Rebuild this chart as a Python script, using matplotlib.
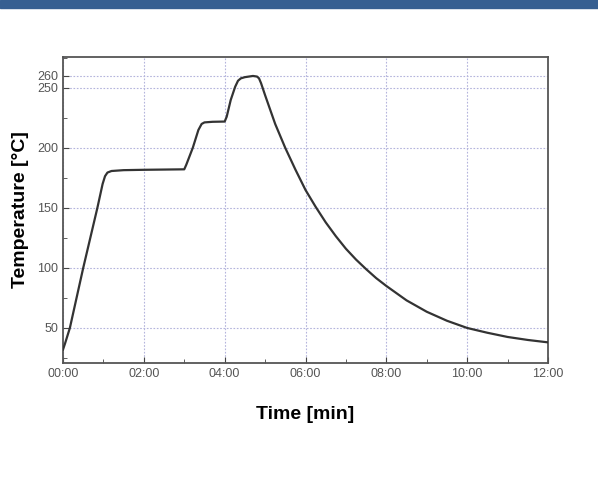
import matplotlib.pyplot as plt
from matplotlib.patches import Rectangle
from matplotlib.ticker import FuncFormatter, MultipleLocator

# Time in minutes and temperature in deg C
time_min = [0.0, 0.05, 0.17, 0.5, 0.85, 0.98, 1.04, 1.1, 1.2, 1.5, 2.0, 2.5, 3.0,
            3.05, 3.21, 3.35, 3.43, 3.5, 3.7, 4.0, 4.05, 4.15, 4.26, 4.33, 4.4,
            4.5, 4.7, 4.8, 4.85, 4.9, 5.0, 5.25, 5.5, 5.75, 6.0, 6.25, 6.5, 6.75,
            7.0, 7.25, 7.5, 7.75, 8.0, 8.5, 9.0, 9.5, 10.0, 10.5, 11.0, 11.5, 12.0]
temp_c = [32, 37, 50, 100, 150, 170, 176.5, 179.5, 180.8, 181.5, 181.8, 182, 182.2,
          186, 200, 215, 220, 221.3, 221.8, 222, 226, 240, 251, 256, 258,
          259, 260, 259.5, 258, 254, 244, 220, 200, 182, 165, 151, 138, 126.5,
          116, 107, 99, 91.5, 85, 73, 63.5, 56, 50, 46, 42.5, 40, 38]

y_ticks = [50, 100, 150, 200, 250, 260]
x_ticks = [0, 2, 4, 6, 8, 10, 12]

fig = plt.figure(figsize=(5.98, 4.84), dpi=100)
fig.patches.append(Rectangle((0, 1 - 8 / 484), 1, 8 / 484, transform=fig.transFigure,
                             color='#365f91', zorder=0))

ax = fig.add_axes([63 / 598, 1 - 363 / 484, 485 / 598, 306 / 484])
ax.plot(time_min, temp_c, color='#333333', lw=1.6, zorder=3)

ax.set_xlim(0, 12)
ax.set_ylim(20.8, 275.8)
ax.set_xticks(x_ticks)
ax.xaxis.set_minor_locator(MultipleLocator(1))
ax.set_yticks(y_ticks)
ax.yaxis.set_minor_locator(MultipleLocator(25))
ax.xaxis.set_major_formatter(FuncFormatter(lambda v, p: '%02d:00' % int(round(v))))

ax.tick_params(which='both', direction='in', top=False, right=False,
               labelsize=9, labelcolor='#555555', color='#444444')
ax.tick_params(which='major', length=4)
ax.tick_params(which='minor', length=3)
for lab in ax.get_xticklabels() + ax.get_yticklabels():
    lab.set_family('Liberation Sans')

for s in ax.spines.values():
    s.set_color('#555555')
    s.set_linewidth(1.3)

ax.grid(True, which='major', linestyle=(0, (1.5, 1.5)), color='#b4b4dc', lw=0.8)

ax.set_xlabel('Time [min]', fontsize=14, fontweight='bold', family='Liberation Sans',
              labelpad=19)
ax.set_ylabel('Temperature [°C]', fontsize=14, fontweight='bold', family='Liberation Sans',
              labelpad=6)

fig.savefig('out.png', dpi=100)
